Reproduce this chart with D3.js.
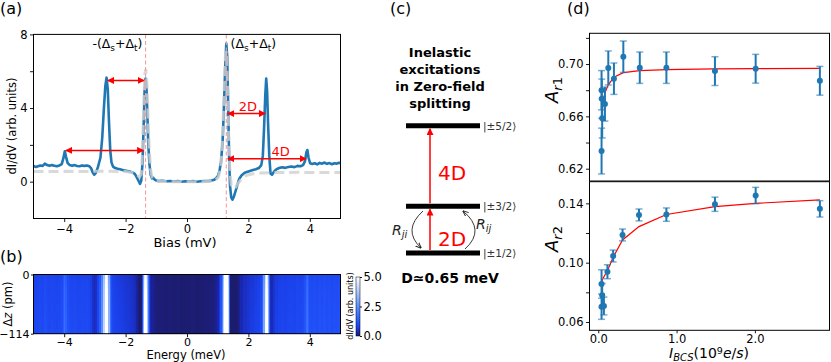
<!DOCTYPE html>
<html>
<head>
<meta charset="utf-8">
<script src="https://cdn.jsdelivr.net/npm/d3@7"></script>
<style>
  body { margin: 0; background: #fff; }
  svg { display: block; font-family: "DejaVu Sans", sans-serif; }
</style>
</head>
<body>
<svg id="fig" width="831" height="362"></svg>
<script>
// ---- (a) spectra ----
const biasMV = [
  -5.00, -4.92, -4.85, -4.78, -4.70, -4.63, -4.56, -4.48, -4.40, -4.32, -4.24, -4.16, -4.08, -4.03, -3.98, -3.94,
  -3.89, -3.82, -3.74, -3.66, -3.58, -3.50, -3.42, -3.34, -3.26, -3.18, -3.12, -3.07, -3.02, -2.97, -2.90, -2.82,
  -2.76, -2.71, -2.66, -2.62, -2.58, -2.54, -2.50, -2.46, -2.41, -2.34, -2.26, -2.18, -2.10, -2.02, -1.94, -1.86,
  -1.78, -1.70, -1.64, -1.58, -1.53, -1.49, -1.45, -1.41, -1.38, -1.35, -1.32, -1.29, -1.26, -1.22, -1.18, -1.14,
  -1.10, -1.06, -1.00, -0.92, -0.80, -0.68, -0.55, -0.42, -0.30, -0.18, -0.05, 0.08, 0.20, 0.32, 0.45, 0.58,
  0.70, 0.80, 0.88, 0.95, 1.01, 1.06, 1.11, 1.16, 1.20, 1.24, 1.28, 1.31, 1.34, 1.37, 1.40, 1.44,
  1.48, 1.53, 1.58, 1.64, 1.70, 1.78, 1.88, 2.00, 2.12, 2.24, 2.34, 2.42, 2.47, 2.51, 2.55, 2.58,
  2.61, 2.64, 2.68, 2.72, 2.77, 2.84, 2.92, 3.00, 3.10, 3.20, 3.30, 3.40, 3.50, 3.60, 3.70, 3.78,
  3.84, 3.89, 3.92, 3.96, 4.01, 4.08, 4.16, 4.24, 4.32, 4.40, 4.48, 4.56, 4.64, 4.72, 4.80, 4.88,
  4.95, 5.00
];
const didvMolecule = [
  0.85, 0.80, 0.84, 0.88, 0.86, 0.98, 0.90, 0.86, 0.90, 0.87, 0.84, 0.88, 0.95, 1.25, 1.65, 1.35,
  1.02, 0.90, 0.86, 0.90, 0.85, 0.84, 0.88, 0.86, 0.88, 0.84, 0.72, 0.50, 0.38, 0.48, 0.80, 1.30,
  2.40, 3.90, 5.20, 5.65, 5.00, 3.20, 1.70, 1.05, 0.82, 0.74, 0.70, 0.67, 0.64, 0.60, 0.58, 0.55,
  0.50, 0.42, 0.25, 0.05, -0.12, 0.05, 1.00, 3.20, 5.00, 5.60, 5.10, 3.60, 2.00, 0.90, 0.35, 0.18,
  0.22, 0.12, 0.06, 0.03, 0.05, 0.02, 0.04, 0.01, 0.03, 0.00, 0.02, 0.01, 0.03, 0.00, 0.02, 0.04,
  0.03, 0.06, 0.10, 0.18, 0.32, 0.60, 1.10, 2.20, 3.90, 6.00, 7.50, 6.80, 4.20, 1.50, -0.20, -0.85,
  -0.98, -0.80, -0.52, -0.18, 0.15, 0.35, 0.48, 0.55, 0.62, 0.68, 0.74, 0.90, 1.40, 2.90, 4.70, 5.60,
  4.90, 3.20, 1.40, 0.45, 0.38, 0.55, 0.68, 0.74, 0.78, 0.75, 0.80, 0.82, 0.79, 0.86, 0.84, 0.90,
  1.10, 1.60, 1.72, 1.30, 1.00, 0.96, 1.00, 0.94, 1.02, 0.98, 1.04, 0.97, 1.01, 0.95, 1.00, 0.98,
  1.03, 1.00
];
const refBiasMV = [
  -5.00, -4.50, -4.00, -3.50, -3.00, -2.50, -2.00, -1.80, -1.65, -1.55, -1.49, -1.45, -1.41, -1.37, -1.34, -1.31,
  -1.27, -1.23, -1.19, -1.14, -1.05, -0.90, -0.50, 0.00, 0.50, 0.90, 1.02, 1.10, 1.16, 1.21, 1.25, 1.28,
  1.31, 1.35, 1.39, 1.44, 1.50, 1.58, 1.68, 1.80, 1.95, 2.15, 2.40, 2.80, 3.20, 3.60, 4.00, 4.50, 5.00
];
const didvReference = [
  0.55, 0.55, 0.56, 0.55, 0.56, 0.57, 0.55, 0.50, 0.40, 0.25, 0.40, 1.60, 4.20, 5.90, 6.10, 5.50,
  3.60, 1.80, 0.70, 0.25, 0.08, 0.02, 0.00, 0.00, 0.00, 0.03, 0.25, 0.80, 2.40, 5.00, 6.80, 7.10,
  5.80, 3.00, 0.80, -0.20, -0.35, -0.30, -0.05, 0.20, 0.35, 0.43, 0.47, 0.50, 0.50, 0.51, 0.50, 0.50, 0.50
];
const biasTicks = [-4, -2, 0, 2, 4];
const didvTicks = [0, 2, 4, 6, 8];
const gapEdgesMV = [-1.35, 1.28];

// ---- (b) tip-approach map: relative gain of each row (top = 0 pm) ----
const dzRowsPm = [0, -10, -21, -31, -41, -52, -62, -72, -83, -93, -103, -114];
const rowGain = [0.90, 0.93, 0.95, 0.97, 0.98, 0.99, 1.00, 1.01, 1.02, 1.03, 1.04, 1.05];
const dzTickLabels = ['0', '\u2212114'];
const colorbarTicks = [0, 2.5, 5];

// ---- (c) level scheme ----
const levelLabels = ['|\u00b15/2\u27e9', '|\u00b13/2\u27e9', '|\u00b11/2\u27e9'];
const titleLines = ['Inelastic', 'excitations', 'in Zero-field', 'splitting'];

// ---- (d) asymmetries vs BCS current (10^9 e/s) ----
const currentAr1 = [0.042, 0.042, 0.045, 0.050, 0.085, 0.128, 0.200, 0.320, 0.530, 0.870, 1.490, 2.010, 2.830];
const ar1 = [0.6335, 0.6800, 0.6735, 0.6585, 0.6694, 0.6970, 0.6888, 0.7056, 0.6972, 0.6972, 0.6946, 0.6964, 0.6872];
const ar1Err = [0.0175, 0.0150, 0.0150, 0.0150, 0.0130, 0.0130, 0.0120, 0.0120, 0.0120, 0.0120, 0.0110, 0.0110, 0.0110];
const currentAr2 = [0.042, 0.042, 0.050, 0.072, 0.117, 0.190, 0.310, 0.520, 0.870, 1.490, 2.010, 2.830];
const ar2 = [0.0856, 0.0703, 0.0780, 0.0708, 0.0939, 0.1045, 0.1187, 0.1322, 0.1324, 0.1394, 0.1453, 0.1363];
const ar2Err = [0.0096, 0.0085, 0.0080, 0.0060, 0.0047, 0.0040, 0.0040, 0.0040, 0.0045, 0.0048, 0.0055, 0.0055];
const fitCurrent1 = [0.042, 0.063, 0.085, 0.128, 0.200, 0.320, 0.530, 0.870, 1.490, 2.010, 2.830];
const fitAr1 = [0.6559, 0.6724, 0.6780, 0.6841, 0.6899, 0.6934, 0.6950, 0.6958, 0.6963, 0.6965, 0.6967];
const fitCurrent2 = [0.042, 0.072, 0.117, 0.190, 0.310, 0.520, 0.870, 1.490, 2.010, 2.830];
const fitAr2 = [0.0872, 0.0905, 0.0946, 0.1036, 0.1153, 0.1243, 0.1325, 0.1378, 0.1400, 0.1424];
const currentTicks = [0, 1, 2];
const ar1Ticks = [0.62, 0.64, 0.66, 0.68, 0.70, 0.72];
const ar2Ticks = [0.06, 0.08, 0.10, 0.12, 0.14];

const BLUE = '#1f77b4';
const TICK_FS = 11.5;
const svg = d3.select('#fig');

const defs = svg.append('defs');
defs.append('marker').attr('id', 'redHead')
    .attr('viewBox', '0 0 10 10').attr('refX', 9).attr('refY', 5)
    .attr('markerWidth', 7).attr('markerHeight', 7).attr('markerUnits', 'userSpaceOnUse')
    .attr('orient', 'auto-start-reverse')
  .append('path').attr('d', 'M0,0 L10,5 L0,10 z').attr('fill', '#ff0000');
defs.append('marker').attr('id', 'blackHead')
    .attr('viewBox', '0 0 10 10').attr('refX', 9).attr('refY', 5)
    .attr('markerWidth', 6).attr('markerHeight', 6).attr('markerUnits', 'userSpaceOnUse')
    .attr('orient', 'auto')
  .append('path').attr('d', 'M0,1 L10,5 L0,9').attr('fill', 'none').attr('stroke', '#222').attr('stroke-width', 1.6);

function styleAxis(sel, fs) {
    sel.select('.domain').remove();
    sel.selectAll('.tick line').attr('stroke', '#000').attr('stroke-width', 0.9);
    sel.selectAll('.tick text').attr('font-size', fs).attr('fill', '#000')
        .attr('font-family', '"DejaVu Sans", sans-serif');
}

function panelLabel(x, y, txt) {
    svg.append('text').attr('x', x).attr('y', y).attr('font-size', 16).text(txt);
}

// ================= (a) =================
const ax = d3.scaleLinear().domain([-5, 5]).range([33.5, 340.5]);
const ay = d3.scaleLinear().domain([-2, 8]).range([218.5, 34.4]);
const ga = svg.append('g');

ga.append('g').attr('transform', 'translate(0,218.5)')
    .call(d3.axisBottom(ax).tickValues(biasTicks).tickSize(3.5).tickPadding(2.5).tickSizeOuter(0))
    .call(s => styleAxis(s, TICK_FS));
ga.append('g').attr('transform', 'translate(33.5,0)')
    .call(d3.axisLeft(ay).tickValues(didvTicks).tickSize(3.5).tickPadding(2.5)
        .tickFormat(d => d % 4 === 0 ? d3.format('d')(d) : ''))
    .call(s => styleAxis(s, TICK_FS));

const lineA = (xs, ys) => d3.line().x((d, i) => ax(xs[i])).y((d, i) => ay(ys[i]))(xs);

ga.append('path').attr('d', lineA(biasMV, didvMolecule))
    .attr('fill', 'none').attr('stroke', BLUE).attr('stroke-width', 2.6)
    .attr('stroke-linejoin', 'round');
ga.append('path').attr('d', lineA(refBiasMV, didvReference))
    .attr('fill', 'none').attr('stroke', '#cfcfcf').attr('stroke-opacity', 0.8)
    .attr('stroke-width', 3).attr('stroke-dasharray', '10,5');

ga.selectAll('.gap').data(gapEdgesMV).join('line')
    .attr('x1', d => ax(d)).attr('x2', d => ax(d))
    .attr('y1', ay(8)).attr('y2', ay(-2))
    .attr('stroke', '#f4a0a0').attr('stroke-width', 1.1).attr('stroke-dasharray', '4,2.5');

ga.append('rect').attr('x', 33.5).attr('y', 34.4).attr('width', 307).attr('height', 184.1)
    .attr('fill', 'none').attr('stroke', '#000').attr('stroke-width', 1);

// double-headed red arrows
const arrowsA = [
    { x0: -2.58, x1: -1.40, y: 5.5 },
    { x0: -3.95, x1: -1.42, y: 1.7 },
    { x0: 1.33, x1: 2.55, y: 3.7 },
    { x0: 1.33, x1: 3.88, y: 1.25 },
];
ga.selectAll('.arr').data(arrowsA).join('line')
    .attr('x1', d => ax(d.x0)).attr('x2', d => ax(d.x1))
    .attr('y1', d => ay(d.y)).attr('y2', d => ay(d.y))
    .attr('stroke', '#ff0000').attr('stroke-width', 1.5)
    .attr('marker-start', 'url(#redHead)').attr('marker-end', 'url(#redHead)');
ga.append('text').attr('x', ax(1.98)).attr('y', ay(4.1) + 5).attr('text-anchor', 'middle')
    .attr('font-size', 13).attr('fill', '#ff0000').text('2D');
ga.append('text').attr('x', ax(3.05)).attr('y', ay(1.68) + 5).attr('text-anchor', 'middle')
    .attr('font-size', 13).attr('fill', '#ff0000').text('4D');

function deltaLabel(x, y, anchor, prefix) {
    const t = ga.append('text').attr('x', x).attr('y', y).attr('text-anchor', anchor).attr('font-size', 12.5);
    t.append('tspan').text(prefix + '(\u0394');
    t.append('tspan').attr('font-size', 9).attr('dy', 3).text('s');
    t.append('tspan').attr('dy', -3).text('+\u0394');
    t.append('tspan').attr('font-size', 9).attr('dy', 3).text('t');
    t.append('tspan').attr('dy', -3).text(')');
}
deltaLabel(ax(-1.45), 48, 'end', '-');
deltaLabel(ax(1.42), 48, 'start', '');

svg.append('text').attr('transform', 'translate(16,126) rotate(-90)').attr('text-anchor', 'middle')
    .attr('font-size', 11.5).text('dI/dV (arb. units)');
svg.append('text').attr('x', 185).attr('y', 247).attr('text-anchor', 'middle')
    .attr('font-size', 13).text('Bias (mV)');
panelLabel(0, 14, '(a)');

// ================= (b) =================
const bx = d3.scaleLinear().domain([-5, 5]).range([33.5, 340.5]);
const bTop = 274.5, bBot = 333.7;
const by = d3.scaleBand().domain(d3.range(dzRowsPm.length)).range([bTop, bBot]);
const heatStops = [0, 0.3, 0.7, 1.2, 2.5, 5];
const heat = d3.scaleLinear()
    .domain(heatStops)
    .range(['#1c1c6e', '#1a24a8', '#1a40ea', '#2458ff', '#5b8fff', '#ffffff'])
    .clamp(true);

const edges = biasMV.map((v, i) => {
    const lo = i === 0 ? v : (v + biasMV[i - 1]) / 2;
    const hi = i === biasMV.length - 1 ? v : (v + biasMV[i + 1]) / 2;
    return [lo, hi];
});
const gb = svg.append('g');
const cells = gb.append('g').attr('shape-rendering', 'crispEdges');
dzRowsPm.forEach((dz, r) => {
    cells.append('g').selectAll('rect').data(didvMolecule).join('rect')
        .attr('x', (d, i) => bx(edges[i][0]))
        .attr('width', (d, i) => Math.max(0, bx(edges[i][1]) - bx(edges[i][0])) + 0.6)
        .attr('y', by(r)).attr('height', by.bandwidth() + 0.6)
        .attr('fill', d => heat(d * rowGain[r]));
});
gb.append('rect').attr('x', 33.5).attr('y', bTop).attr('width', 307).attr('height', bBot - bTop)
    .attr('fill', 'none').attr('stroke', '#000').attr('stroke-width', 1);
gb.append('g').attr('transform', `translate(0,${bBot})`)
    .call(d3.axisBottom(bx).tickValues(biasTicks).tickSize(3.5).tickPadding(1.2).tickSizeOuter(0))
    .call(s => styleAxis(s, 11));
const bzy = d3.scalePoint().domain(dzTickLabels).range([bTop, bBot]);
gb.append('g').attr('transform', 'translate(33.5,0)')
    .call(d3.axisLeft(bzy).tickSize(2.5).tickPadding(1.5))
    .call(s => styleAxis(s, 11));
const dzLabel = svg.append('text').attr('transform', 'translate(12,304) rotate(-90)')
    .attr('text-anchor', 'middle').attr('font-size', 11.5);
dzLabel.append('tspan').text('\u0394');
dzLabel.append('tspan').attr('font-style', 'italic').text('z');
dzLabel.append('tspan').text(' (pm)');
svg.append('text').attr('x', 186).attr('y', 359).attr('text-anchor', 'middle')
    .attr('font-size', 11.5).text('Energy (meV)');
panelLabel(0, 262, '(b)');

// colorbar
const cbY = d3.scaleLinear().domain([0, 5]).range([336, 277]);
const grad = defs.append('linearGradient').attr('id', 'cbGrad')
    .attr('x1', 0).attr('x2', 0).attr('y1', 1).attr('y2', 0);
heatStops.forEach(v => {
    grad.append('stop').attr('offset', v / 5).attr('stop-color', heat(v));
});
svg.append('rect').attr('x', 356).attr('y', 277).attr('width', 4).attr('height', 59)
    .attr('fill', 'url(#cbGrad)').attr('stroke', '#000').attr('stroke-width', 0.5);
svg.append('g').attr('transform', 'translate(360,0)')
    .call(d3.axisRight(cbY).tickValues(colorbarTicks).tickSize(2).tickPadding(1.5).tickFormat(d3.format('.1f')))
    .call(s => styleAxis(s, 11.5));
svg.append('text').attr('transform', 'translate(353,306) rotate(-90)').attr('text-anchor', 'middle')
    .attr('font-size', 8).text('dI/dV (arb. units)');

// ================= (c) =================
const gc = svg.append('g');
panelLabel(390, 14, '(c)');
titleLines.forEach((t, i) => {
    gc.append('text').attr('x', 440).attr('y', 57 + i * 17).attr('text-anchor', 'middle')
        .attr('font-size', 13).attr('font-weight', 'bold').text(t);
});
const levelY = d3.scaleOrdinal().domain(levelLabels).range([125.7, 206.3, 253]);
gc.selectAll('.lvl').data(levelLabels).join('line')
    .attr('x1', 406).attr('x2', 480).attr('y1', d => levelY(d)).attr('y2', d => levelY(d))
    .attr('stroke', '#000').attr('stroke-width', 5);
gc.selectAll('.lvlText').data(levelLabels).join('text')
    .attr('x', 483).attr('y', d => levelY(d) + 4).attr('font-size', 10.5).attr('fill', '#333')
    .text(d => d);
gc.append('line').attr('x1', 430).attr('x2', 430).attr('y1', levelY(levelLabels[1]) - 3).attr('y2', levelY(levelLabels[0]) + 3)
    .attr('stroke', '#ff0000').attr('stroke-width', 1.5).attr('marker-end', 'url(#redHead)');
gc.append('line').attr('x1', 430).attr('x2', 430).attr('y1', levelY(levelLabels[2]) - 3).attr('y2', levelY(levelLabels[1]) + 3)
    .attr('stroke', '#ff0000').attr('stroke-width', 1.5).attr('marker-end', 'url(#redHead)');
gc.append('text').attr('x', 438).attr('y', 180).attr('font-size', 20).attr('fill', '#ff0000').text('4D');
gc.append('text').attr('x', 438).attr('y', 246).attr('font-size', 20).attr('fill', '#ff0000').text('2D');
gc.append('path').attr('d', 'M423,211 Q402,230 421,248')
    .attr('fill', 'none').attr('stroke', '#222').attr('stroke-width', 0.9).attr('marker-end', 'url(#blackHead)');
gc.append('path').attr('d', 'M465,249 Q486,230 463,211')
    .attr('fill', 'none').attr('stroke', '#222').attr('stroke-width', 0.9).attr('marker-end', 'url(#blackHead)');
function rateLabel(x, y, sub) {
    const t = gc.append('text').attr('x', x).attr('y', y).attr('font-size', 14).attr('font-style', 'italic').attr('fill', '#222');
    t.append('tspan').text('R');
    t.append('tspan').attr('font-size', 10).attr('dy', 3).text(sub);
}
rateLabel(392, 235, 'ji');
rateLabel(476, 229, 'ij');
gc.append('text').attr('x', 450).attr('y', 283).attr('text-anchor', 'middle')
    .attr('font-size', 14).attr('font-weight', 'bold').text('D\u22430.65 meV');

// ================= (d) =================
const dx = d3.scaleLinear().domain([-0.112, 2.953]).range([589.5, 829.5]);
const d1y = d3.scaleLinear().domain([0.6106, 0.7235]).range([181, 33.3]);
const d2y = d3.scaleLinear().domain([0.0544, 0.1546]).range([330.3, 181.7]);
panelLabel(567, 14, '(d)');

function errPanel(yScale, xs, ys, es, fx, fy, ticks, fmtEvery) {
    const g = svg.append('g');
    g.append('g').attr('transform', 'translate(589.5,0)')
        .call(d3.axisLeft(yScale).tickValues(ticks).tickSize(3.5).tickPadding(2.5)
            .tickFormat(d => fmtEvery(d) ? d3.format('.2f')(d) : ''))
        .call(s => styleAxis(s, TICK_FS));
    g.append('path').attr('d', d3.line().x((d, i) => dx(fx[i])).y((d, i) => yScale(fy[i]))(fx))
        .attr('fill', 'none').attr('stroke', '#ff0000').attr('stroke-width', 1.2);
    const pts = xs.map((x, i) => ({ x, y: ys[i], e: es[i] }));
    g.selectAll('.eb').data(pts).join('line')
        .attr('x1', d => dx(d.x)).attr('x2', d => dx(d.x))
        .attr('y1', d => yScale(d.y - d.e)).attr('y2', d => yScale(d.y + d.e))
        .attr('stroke', BLUE).attr('stroke-width', 2);
    ['lo', 'hi'].forEach(k => {
        g.selectAll('.cap' + k).data(pts).join('line')
            .attr('x1', d => dx(d.x) - 3.5).attr('x2', d => dx(d.x) + 3.5)
            .attr('y1', d => yScale(k === 'lo' ? d.y - d.e : d.y + d.e))
            .attr('y2', d => yScale(k === 'lo' ? d.y - d.e : d.y + d.e))
            .attr('stroke', BLUE).attr('stroke-opacity', 0.6).attr('stroke-width', 1.5);
    });
    g.selectAll('circle').data(pts).join('circle')
        .attr('cx', d => dx(d.x)).attr('cy', d => yScale(d.y)).attr('r', 3)
        .attr('fill', BLUE);
    return g;
}
errPanel(d1y, currentAr1, ar1, ar1Err, fitCurrent1, fitAr1, ar1Ticks, d => Math.round(d * 100) % 4 === 2);
errPanel(d2y, currentAr2, ar2, ar2Err, fitCurrent2, fitAr2, ar2Ticks, d => Math.round(d * 100) % 4 === 2);

svg.append('rect').attr('x', 589.5).attr('y', 33.3).attr('width', 240).attr('height', 147.7)
    .attr('fill', 'none').attr('stroke', '#000').attr('stroke-width', 1);
svg.append('rect').attr('x', 589.5).attr('y', 181.7).attr('width', 240).attr('height', 148.6)
    .attr('fill', 'none').attr('stroke', '#000').attr('stroke-width', 1);
svg.append('g').attr('transform', 'translate(0,330.3)')
    .call(d3.axisBottom(dx).tickValues(currentTicks).tickSize(3).tickPadding(1.5).tickSizeOuter(0))
    .call(s => styleAxis(s, TICK_FS));

function arLabel(y, sub) {
    const t = svg.append('text').attr('transform', `translate(558,${y}) rotate(-90)`)
        .attr('text-anchor', 'middle').attr('font-size', 18);
    t.append('tspan').attr('font-style', 'italic').text('A');
    t.append('tspan').attr('font-size', 13).attr('dy', 4).attr('font-style', 'italic').text('r');
    t.append('tspan').attr('font-size', 13).text(sub);
}
arLabel(90, '1');
arLabel(239, '2');

const xl = svg.append('text').attr('x', 709).attr('y', 358).attr('text-anchor', 'middle').attr('font-size', 14);
xl.append('tspan').attr('font-style', 'italic').text('I');
xl.append('tspan').attr('font-style', 'italic').attr('font-size', 10).attr('dy', 3).text('BCS');
xl.append('tspan').attr('dy', -3).text('(10');
xl.append('tspan').attr('font-size', 9.5).attr('dy', -4.5).text('9');
xl.append('tspan').attr('dy', 4.5).attr('font-style', 'italic').text('e');
xl.append('tspan').text('/');
xl.append('tspan').attr('font-style', 'italic').text('s');
xl.append('tspan').text(')');
</script>
</body>
</html>
